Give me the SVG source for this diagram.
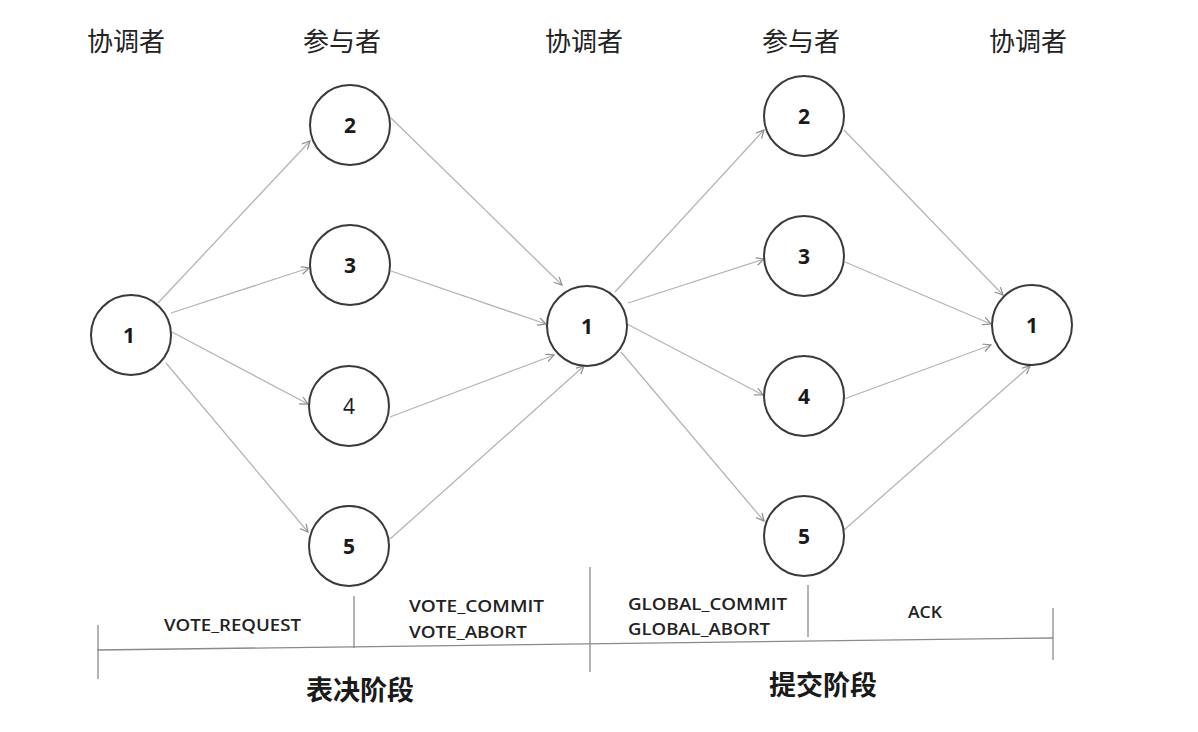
<svg xmlns="http://www.w3.org/2000/svg" width="1198" height="732" viewBox="0 0 1198 732">
<style>
.hdr{font-family:"Noto Sans CJK SC","Noto Sans",sans-serif;font-size:26px;fill:#222;text-anchor:middle}
.node circle{fill:#fff;stroke:#3a3a3a;stroke-width:2}
.node text{font-family:"Open Sans","Noto Sans",sans-serif;font-size:21px;font-weight:bold;fill:#1a1a1a;text-anchor:middle}
.edge{stroke:#b4b4b4;stroke-width:1.3;fill:none;marker-end:url(#arr)}
.lbl{font-family:"Open Sans","Noto Sans",sans-serif;font-size:17px;font-weight:600;fill:#222}
.phase{font-family:"Noto Sans CJK SC",sans-serif;font-size:27px;font-weight:bold;fill:#1a1a1a;text-anchor:middle}
.axis{stroke:#8a8a8a;stroke-width:1.3;fill:none}
</style>
<defs>
<marker id="arr" markerWidth="10" markerHeight="10" refX="8" refY="4" orient="auto" markerUnits="userSpaceOnUse">
<path d="M0,0 L8,4 L0,8" fill="none" stroke="#8c8c8c" stroke-width="1.2"/>
</marker>
</defs>
<rect width="1198" height="732" fill="#fff"/>
<g id="headers">
<text class="hdr" x="126" y="51">协调者</text>
<text class="hdr" x="342" y="51">参与者</text>
<text class="hdr" x="584" y="51">协调者</text>
<text class="hdr" x="801" y="51">参与者</text>
<text class="hdr" x="1028" y="51">协调者</text>
</g>
<g id="connectors">
<line class="edge" x1="158" y1="303" x2="310" y2="141"/>
<line class="edge" x1="171" y1="313" x2="309" y2="268"/>
<line class="edge" x1="172" y1="332" x2="308" y2="404"/>
<line class="edge" x1="166" y1="363" x2="308" y2="532"/>
<line class="edge" x1="391" y1="118" x2="562" y2="285"/>
<line class="edge" x1="391" y1="271" x2="546" y2="324"/>
<line class="edge" x1="390" y1="417" x2="554" y2="355"/>
<line class="edge" x1="390" y1="539" x2="584" y2="366"/>
<line class="edge" x1="615" y1="292" x2="764" y2="130"/>
<line class="edge" x1="628" y1="303" x2="764" y2="259"/>
<line class="edge" x1="627" y1="324" x2="763" y2="395"/>
<line class="edge" x1="621" y1="352" x2="764" y2="521"/>
<line class="edge" x1="844" y1="130" x2="1003" y2="295"/>
<line class="edge" x1="845" y1="262" x2="991" y2="324"/>
<line class="edge" x1="844" y1="399" x2="991" y2="345"/>
<line class="edge" x1="844" y1="530" x2="1030" y2="366"/>
</g>
<g id="c1" class="node"><circle cx="131" cy="335" r="40"/><text x="129" y="343">1</text></g>
<g id="p2" class="node"><circle cx="350" cy="125" r="40"/><text x="350" y="133">2</text></g>
<g id="p3" class="node"><circle cx="350" cy="265" r="40"/><text x="350" y="273">3</text></g>
<g id="p4" class="node"><circle cx="349" cy="406" r="40"/><text x="349" y="414" style="font-weight:normal">4</text></g>
<g id="p5" class="node"><circle cx="349" cy="546" r="40"/><text x="349" y="554">5</text></g>
<g id="c2" class="node"><circle cx="587" cy="326" r="40"/><text x="587" y="334">1</text></g>
<g id="q2" class="node"><circle cx="804" cy="116" r="40"/><text x="804" y="124">2</text></g>
<g id="q3" class="node"><circle cx="804" cy="256" r="40"/><text x="804" y="264">3</text></g>
<g id="q4" class="node"><circle cx="804" cy="396" r="40"/><text x="804" y="404">4</text></g>
<g id="q5" class="node"><circle cx="804" cy="536" r="40"/><text x="804" y="544">5</text></g>
<g id="c3" class="node"><circle cx="1032" cy="325" r="40"/><text x="1032" y="333">1</text></g>
<g id="timeline">
<line class="axis" x1="97" y1="650" x2="1053" y2="638"/>
<line class="axis" x1="98" y1="625" x2="98" y2="679"/>
<line class="axis" x1="354" y1="596" x2="354" y2="648"/>
<line class="axis" x1="590" y1="567" x2="590" y2="672"/>
<line class="axis" x1="808" y1="585" x2="808" y2="637"/>
<line class="axis" x1="1053" y1="608" x2="1053" y2="660"/>
<text class="lbl" x="164" y="631" textLength="137" lengthAdjust="spacingAndGlyphs">VOTE_REQUEST</text>
<text class="lbl" x="409" y="612" textLength="135" lengthAdjust="spacingAndGlyphs">VOTE_COMMIT</text>
<text class="lbl" x="409" y="638" textLength="118" lengthAdjust="spacingAndGlyphs">VOTE_ABORT</text>
<text class="lbl" x="628" y="610" textLength="159" lengthAdjust="spacingAndGlyphs">GLOBAL_COMMIT</text>
<text class="lbl" x="628" y="635" textLength="142" lengthAdjust="spacingAndGlyphs">GLOBAL_ABORT</text>
<text class="lbl" x="908" y="618" textLength="34" lengthAdjust="spacingAndGlyphs">ACK</text>
<text class="phase" x="360" y="700">表决阶段</text>
<text class="phase" x="823" y="695">提交阶段</text>
</g>
</svg>
